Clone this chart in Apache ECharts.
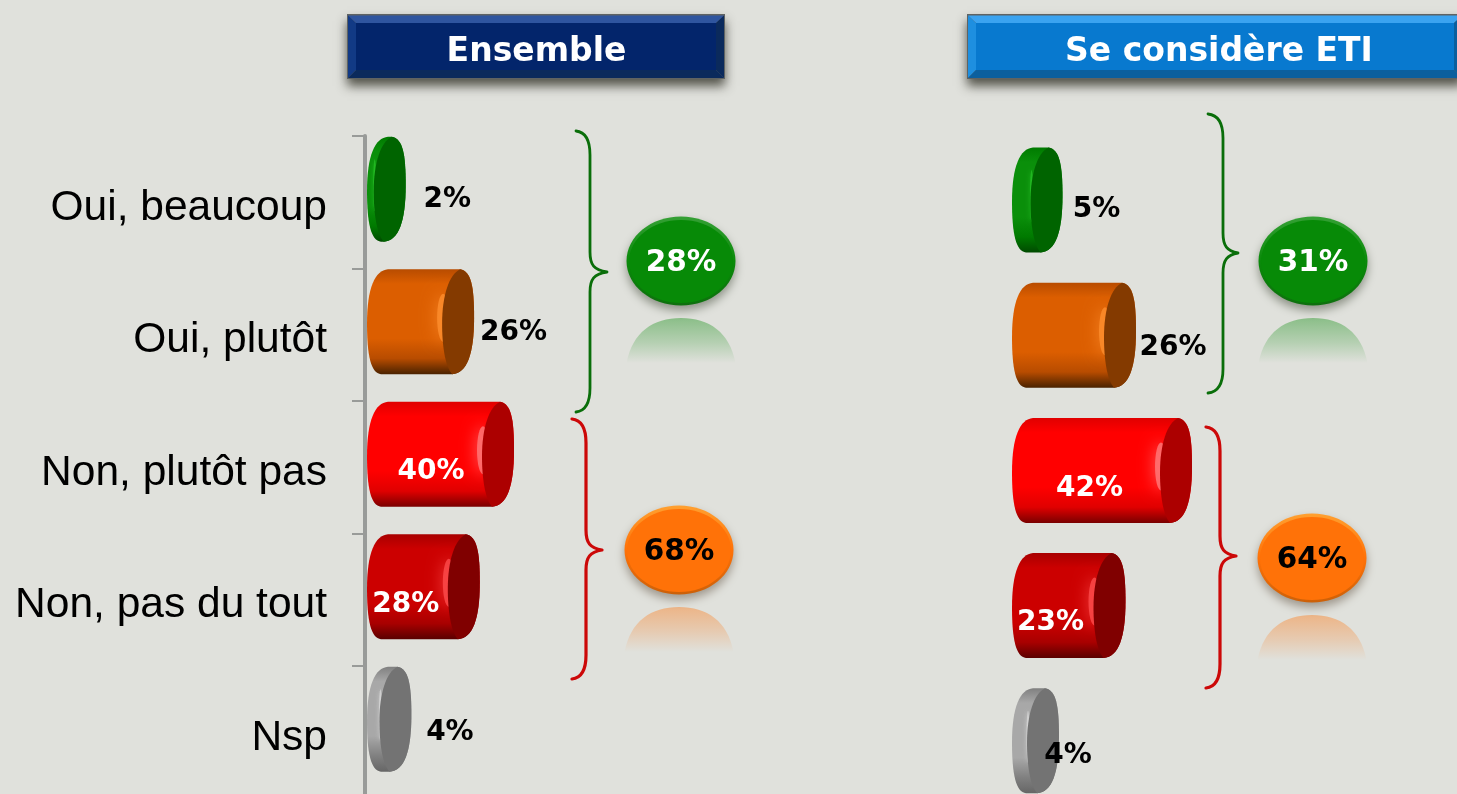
<!DOCTYPE html>
<html><head><meta charset="utf-8">
<style>html,body{margin:0;padding:0;background:#e0e1dc;overflow:hidden}#c{width:1457px;height:794px}</style>
<script src="https://cdn.jsdelivr.net/npm/echarts@6/dist/echarts.min.js"></script>
</head><body><div id="c"></div>
<script>
var categories = ['Oui, beaucoup','Oui, plutôt','Non, plutôt pas','Non, pas du tout','Nsp'];
var ensembleValues = [2,26,40,28,4];
var etiValues = [5,26,42,23,4];
var groupTitles = ['Ensemble','Se considère ETI'];
var ensembleSummary = [28,68];
var etiSummary = [31,64];

var FONT = '"DejaVu Sans",Verdana,sans-serif';
var palette = [
 {top:'#007a00',body:'#0a8f0a',low:'#004a00',cap:'#006400',glow:'#30d030',text:'#000'},
 {top:'#b84c00',body:'#dc5e00',low:'#4a2200',cap:'#843a00',glow:'#ff9030',text:'#000'},
 {top:'#e00000',body:'#ff0000',low:'#7a0000',cap:'#ac0000',glow:'#ff8080',text:'#fff'},
 {top:'#a80000',body:'#cc0000',low:'#5a0000',cap:'#800000',glow:'#ff5050',text:'#fff'},
 {top:'#808080',body:'#a8a8a8',low:'#666666',cap:'#737373',glow:'#e8e8e8',text:'#000'}
];
var labelOffsetEnsemble = [[41.5,10.5],[39.5,10.5],[-83,17.5],[-74,18],[38.5,13.5]];
var labelOffsetEti = [[34,9.5],[37,12.5],[-102.5,18],[-75,17],[9,14.5]];

function lin(stops){return {type:'linear',x:0,y:0,x2:0,y2:1,colorStops:stops.map(function(s){return {offset:s[0],color:s[1]};})};}

function barRender(offsets, centerShift){
  return function(params, api){
    var i = api.value(0), v = api.value(1);
    var p0 = api.coord([0,i]), p1 = api.coord([v,i]);
    var x0 = p0[0]+2, x1 = p1[0]+35, my = p0[1]+centerShift, h = 105;
    var t = my-h/2, b = my+h/2, c = palette[i];
    var small = x1-x0 < 60;
    var TL=x0+21, TR=Math.max(TL,x1-14), BL=x0+14, BR=Math.max(BL,x1-22);
    var right = ' C'+(x1-3)+' '+(t+2)+' '+x1+' '+(my-36)+' '+x1+' '+(my-4)+
      ' C'+x1+' '+(my+32)+' '+(x1-7)+' '+(b-1)+' '+BR+' '+b;
    var body = 'M'+TL+' '+t+' L'+TR+' '+t+ right +
      ' L'+BL+' '+b+
      ' C'+(x0+4)+' '+(b-1)+' '+x0+' '+(my+34)+' '+x0+' '+(my+2)+
      ' C'+x0+' '+(my-34)+' '+(x0+8)+' '+(t+1)+' '+TL+' '+t+' Z';
    var cl = x1-32;
    var cap = 'M'+TR+' '+t+ right +
      ' C'+(cl+3)+' '+(b-8)+' '+cl+' '+(my+24)+' '+cl+' '+(my+2)+
      ' C'+cl+' '+(my-26)+' '+(cl+7)+' '+(t+5)+' '+TR+' '+t+' Z';
    var o = offsets[i];
    return {type:'group',children:[
      {type:'path',shape:{pathData:body,x:x0,y:t,width:x1-x0,height:h,layout:'cover'},
       style:{fill:lin([[0,c.top],[.14,c.body],[.66,c.body],[.85,c.top],[1,c.low]])}},
      {type:'ellipse',shape:{cx:cl+1,cy:my-4,rx:small?1.5:6,ry:small?26:24},
       style:{fill:c.glow,opacity:small?.55:.75,shadowBlur:small?4:16,shadowColor:c.glow}},
      {type:'path',shape:{pathData:cap,x:cl,y:t,width:x1-cl,height:h,layout:'cover'},style:{fill:c.cap}},
      {type:'text',style:{x:x1+o[0],y:my+o[1],text:v+'%',fill:c.text,font:'bold 28px '+FONT,textAlign:'center',textVerticalAlign:'middle'}}
    ]};
  };
}

var badgeLayout = [
 {cx:681,cy:261,kind:0},{cx:679,cy:550,kind:1},{cx:1313,cy:261,kind:0},{cx:1312,cy:558,kind:1}
];
var badgeStyles = [
 {edge:lin([[0,'#35a035'],[.5,'#0a8a0a'],[1,'#0e700e']]),face:'#078a07',ghost:'#0a8a0a',text:'#fff',shadow:'rgba(40,50,30,.45)'},
 {edge:lin([[0,'#ffa030'],[.5,'#ff7208'],[1,'#cc6008']]),face:'#ff7208',ghost:'#ff7208',text:'#000',shadow:'rgba(60,40,20,.4)'}
];
function badgeRender(params, api){
  var i = params.dataIndex, L = badgeLayout[i], s = badgeStyles[L.kind], v = api.value(0);
  var rx=54.5, ry=44.5, cx=L.cx, cy=L.cy, gt=cy+57, gb=cy+102;
  var ghost='M'+(cx-rx)+' '+gb+' C'+(cx-rx+6)+' '+(gt+14)+' '+(cx-28)+' '+gt+' '+cx+' '+gt+
            ' C'+(cx+28)+' '+gt+' '+(cx+rx-6)+' '+(gt+14)+' '+(cx+rx)+' '+gb+' Z';
  return {type:'group',children:[
    {type:'path',shape:{pathData:ghost,x:cx-rx,y:gt,width:2*rx,height:gb-gt,layout:'cover'},
     style:{fill:lin([[0,s.ghost+'66'],[.55,s.ghost+'33'],[1,s.ghost+'00']])}},
    {type:'ellipse',shape:{cx:cx,cy:cy,rx:rx,ry:ry},style:{fill:s.edge,shadowBlur:10,shadowOffsetY:5,shadowColor:s.shadow}},
    {type:'ellipse',shape:{cx:cx,cy:cy+.5,rx:rx-2.5,ry:ry-3},style:{fill:s.face}},
    {type:'text',style:{x:cx,y:cy+2,text:v+'%',fill:s.text,font:'bold 29.5px '+FONT,textAlign:'center',textVerticalAlign:'middle'}}
  ]};
}

var braceLayout = [
 [607,590,576,131,272,412,'#0a6e0a',2.8],
 [602,586,572,419,550,679,'#cc0808',3.2],
 [1238,1223,1208,114,253,393,'#0a6e0a',2.8],
 [1236,1220,1206,427,556,688,'#cc0808',3.2]
];
function braceRender(params){
  var L=braceLayout[params.dataIndex],xTip=L[0],xBar=L[1],xEnd=L[2],yTop=L[3],yTip=L[4],yBot=L[5];
  var d='M'+xEnd+' '+yTop+' C'+(xBar-5)+' '+(yTop+1)+' '+xBar+' '+(yTop+9)+' '+xBar+' '+(yTop+24)+
    ' L'+xBar+' '+(yTip-20)+' C'+xBar+' '+(yTip-7)+' '+(xBar+4)+' '+(yTip-2)+' '+xTip+' '+yTip+
    ' C'+(xBar+4)+' '+(yTip+2)+' '+xBar+' '+(yTip+7)+' '+xBar+' '+(yTip+20)+
    ' L'+xBar+' '+(yBot-24)+' C'+xBar+' '+(yBot-9)+' '+(xBar-5)+' '+(yBot-1)+' '+xEnd+' '+yBot;
  return {type:'path',shape:{pathData:d,x:xEnd,y:yTop,width:xTip-xEnd,height:yBot-yTop,layout:'cover'},
    style:{fill:'none',stroke:L[6],lineWidth:L[7],lineJoin:'round',lineCap:'round'}};
}
function banner(x,y,w,h,face,lightTop,lightSide,dark,title,cx){
  var b=9,r=x+w,e=y+h,t=y+1.5,l=x+1;
  return {type:'group',z:5,children:[
    {type:'rect',shape:{x:x,y:y,width:w,height:h},style:{fill:'#5f6363',shadowBlur:10,shadowOffsetY:7,shadowColor:'rgba(50,50,40,.8)'}},
    {type:'polygon',shape:{points:[[l,t],[r-1,t],[r-b,y+b],[x+b,y+b]]},style:{fill:lightTop}},
    {type:'polygon',shape:{points:[[l,t],[x+b,y+b],[x+b,e-b],[l,e-1]]},style:{fill:lightSide}},
    {type:'polygon',shape:{points:[[r-1,t],[r-b,y+b],[r-b,e-b],[r-1,e-1]]},style:{fill:dark}},
    {type:'polygon',shape:{points:[[l,e-1],[x+b,e-b],[r-b,e-b],[r-1,e-1]]},style:{fill:dark}},
    {type:'rect',shape:{x:x+b,y:y+b,width:w-2*b,height:h-2*b},style:{fill:face}},
    {type:'text',style:{x:cx,y:y+h/2+6,text:title,fill:'#fff',font:'bold 33px '+FONT,textAlign:'center',textVerticalAlign:'middle'}}
  ]};
}

var chart = echarts.init(document.getElementById('c'),null,{renderer:'canvas'});
chart.setOption({
  animation:false,
  backgroundColor:'#e0e1dc',
  grid:[
    {left:365,top:136,width:285,height:662.5,outerBoundsMode:'none'},
    {left:1010,top:132.4,width:350,height:676,outerBoundsMode:'none'},
    {left:365,top:142,width:285,height:662.5,outerBoundsMode:'none'}
  ],
  xAxis:[
    {gridIndex:0,type:'value',min:0,max:100,show:false},
    {gridIndex:1,type:'value',min:0,max:100,show:false},
    {gridIndex:2,type:'value',min:0,max:100,show:false}
  ],
  yAxis:[
    {gridIndex:0,type:'category',inverse:true,data:categories,
     axisLine:{show:true,lineStyle:{color:'#999b99',width:4}},
     axisTick:{show:true,length:13,lineStyle:{color:'#999b99',width:2}},
     splitLine:{show:false},axisLabel:{show:false}},
    {gridIndex:1,type:'category',inverse:true,data:categories,show:false},
    {gridIndex:2,type:'category',inverse:true,data:categories,
     axisLine:{show:false},axisTick:{show:false},splitLine:{show:false},
     axisLabel:{margin:38,color:'#000',fontSize:42.5,fontFamily:'"Liberation Sans",Arial,sans-serif'}}
  ],
  graphic:{elements:[
    banner(347,14,378,65,'#03256b','#2f559f','#123a85','#0b2a5c',groupTitles[0],536.5),
    banner(967,14,496,65,'#0879cf','#3ba3f0','#1e8fe0','#0b5f9e',groupTitles[1],1219)
  ]},
  series:[
    {type:'custom',xAxisIndex:0,yAxisIndex:0,renderItem:barRender(labelOffsetEnsemble,-13),
     data:ensembleValues.map(function(v,i){return [i,v];}),encode:{x:1,y:0}},
    {type:'custom',xAxisIndex:1,yAxisIndex:1,renderItem:barRender(labelOffsetEti,0),
     data:etiValues.map(function(v,i){return [i,v];}),encode:{x:1,y:0}},
    {type:'custom',coordinateSystem:'none',renderItem:braceRender,data:braceLayout.map(function(b,i){return [i];})},
    {type:'custom',coordinateSystem:'none',renderItem:badgeRender,
     data:ensembleSummary.concat(etiSummary).map(function(v){return [v];})}
  ]
});
</script></body></html>
